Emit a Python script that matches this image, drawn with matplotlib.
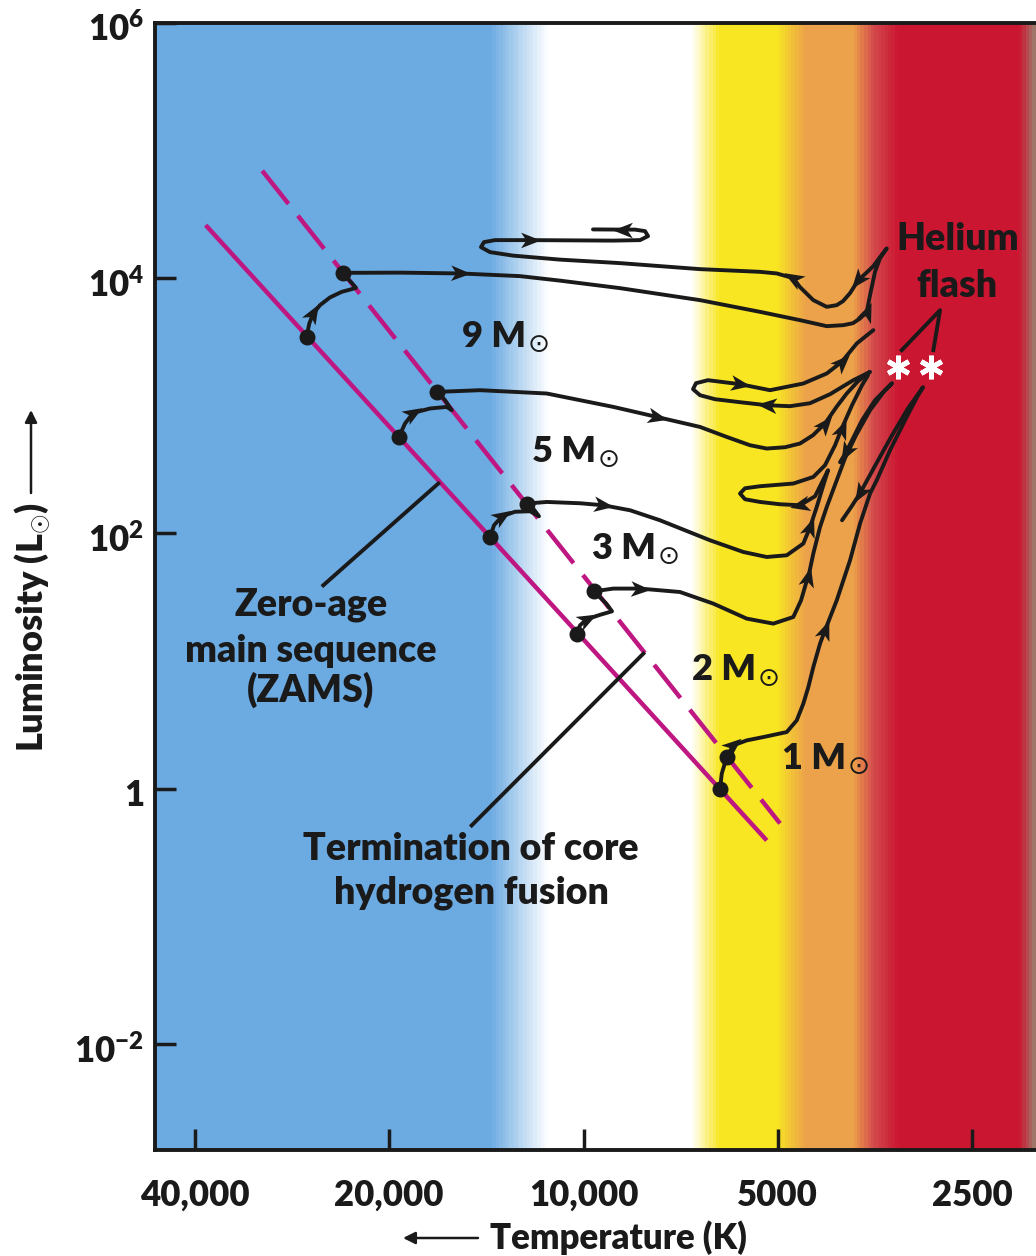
import numpy as np
import matplotlib
matplotlib.use("Agg")
import matplotlib.pyplot as plt
from matplotlib.colors import LinearSegmentedColormap, Normalize
from matplotlib.markers import MarkerStyle
from matplotlib.path import Path
from matplotlib.transforms import Affine2D, ScaledTranslation
from matplotlib.ticker import NullLocator

plt.rcParams['font.family'] = ['Lato', 'DejaVu Sans']
plt.rcParams['font.weight'] = 'heavy'
plt.rcParams['mathtext.fontset'] = 'custom'
plt.rcParams['mathtext.rm'] = 'Lato:heavy'
plt.rcParams['mathtext.bf'] = 'Lato:heavy'
plt.rcParams['mathtext.it'] = 'Lato:heavy'
plt.rcParams['mathtext.sf'] = 'Lato:heavy'

# ---------------- data (log10 T [K], log10 L [Lsun]) ----------------
x_ticks = [40000, 20000, 10000, 5000, 2500]
x_tick_labels = ['40,000', '20,000', '10,000', '5000', '2500']
y_ticks = [1e-2, 1, 1e2, 1e4, 1e6]
y_tick_labels = [r'$\mathbf{10^{-2}}$', '1', r'$\mathbf{10^{2}}$',
                 r'$\mathbf{10^{4}}$', r'$\mathbf{10^{6}}$']
T_range = (46130, 1990)
L_range = (10 ** -2.83, 1e6)

zams_logT = [4.5855, 3.7161]
zams_logL = [4.4146, -0.4052]
tams_logT = [4.4978, 3.6955]
tams_logL = [4.8401, -0.2720]

# 9 Msun
m9_ms_logT = [4.4290, 4.4249, 4.4187, 4.4083, 4.3929, 4.3747, 4.3592, 4.3526, 4.3592, 4.3670, 4.3722]
m9_ms_logL = [3.5392, 3.6442, 3.7225, 3.7876, 3.8479, 3.8918, 3.9130, 3.9232, 3.9624, 4.0047, 4.0407]
m9_logT = [4.3722, 4.2844, 4.1914, 4.0984, 4.0364, 3.9434, 3.8195, 3.7265, 3.6645, 3.6231,
           3.5974, 3.5824, 3.5715, 3.5611, 3.5560, 3.5483, 3.5405, 3.5301, 3.5405, 3.5509,
           3.5622, 3.5742, 3.5870, 3.5979, 3.6076, 3.6231, 3.6439, 3.6645, 3.6749, 3.7006,
           3.7265, 3.8195, 3.9434, 4.0364, 4.1093, 4.1449, 4.1589, 4.1542, 4.1372, 4.0829,
           3.9543, 3.9124, 3.9000, 3.9047, 3.9202, 3.9388, 3.9853]
m9_logL = [4.0407, 4.0423, 4.0360, 4.0149, 3.9796, 3.9208, 3.8268, 3.7351, 3.6700, 3.6230,
           3.6309, 3.6465, 3.6834, 3.7351, 3.8660, 4.0486, 4.1559, 4.2320, 4.1638, 4.0933,
           4.0384, 3.9835, 3.8817, 3.8189, 3.7876, 3.7743, 3.8268, 3.9287, 3.9992, 4.0360,
           4.0486, 4.0697, 4.1168, 4.1442, 4.1756, 4.2030, 4.2422, 4.2813, 4.2970, 4.2970,
           4.2931, 4.2970, 4.3284, 4.3675, 4.3793, 4.3793, 4.3809]
m9_ms_arrows = [2]
m9_arrows = [2, 13, 21, 28, 39, 45]

# 5 Msun
m5_ms_logT = [4.2859, 4.2766, 4.2638, 4.2379, 4.2120, 4.2042, 4.2146, 4.2266]
m5_ms_logL = [2.7555, 2.8605, 2.9436, 2.9780, 2.9906, 2.9647, 3.0431, 3.1081]
m5_logT = [4.2266, 4.1604, 4.0570, 3.9538, 3.8866, 3.8195, 3.7781, 3.7420, 3.7161, 3.6877,
           3.6645, 3.6444, 3.6258, 3.6072, 3.5921, 3.5746, 3.5560, 3.5819, 3.6180, 3.6490,
           3.6800, 3.7161, 3.7575, 3.7962, 3.8195, 3.8303, 3.8257, 3.8071, 3.7575, 3.7110,
           3.6594, 3.6231, 3.5999, 3.5766, 3.5509]
m5_logL = [3.1081, 3.1215, 3.0956, 2.9906, 2.9122, 2.8338, 2.7555, 2.6904, 2.6645, 2.6747,
           2.7038, 2.7688, 2.8605, 2.9961, 3.0956, 3.1920, 3.2649, 3.1998, 3.0901, 3.0195,
           2.9961, 3.0039, 3.0274, 3.0509, 3.0822, 3.1293, 3.1763, 3.1998, 3.1685, 3.1215,
           3.1739, 3.2523, 3.3433, 3.4874, 3.5917]
m5_ms_arrows = [2]
m5_arrows = [4, 12, 21, 28, 32]

# 3 Msun
m3_ms_logT = [4.1449, 4.1387, 4.1263, 4.1062, 4.0829, 4.0690, 4.0783, 4.0880]
m3_ms_logL = [1.9694, 2.0635, 2.1340, 2.1693, 2.1732, 2.1340, 2.1967, 2.2335]
m3_logT = [4.0880, 4.0570, 4.0054, 3.9693, 3.9279, 3.8815, 3.8040, 3.7524, 3.7161, 3.6851,
           3.6594, 3.6490, 3.6386, 3.6284, 3.6211, 3.6304, 3.6412, 3.6645, 3.6955, 3.7265,
           3.7497, 3.7575, 3.7497, 3.7265, 3.6749, 3.6439, 3.6258, 3.6102, 3.5999, 3.5839,
           3.5684, 3.5591]
m3_logL = [2.2335, 2.2461, 2.2359, 2.2202, 2.1810, 2.1026, 1.9459, 1.8542, 1.8150, 1.8284,
           1.9201, 2.0477, 2.2069, 2.3769, 2.4945, 2.4005, 2.2907, 2.2202, 2.2280, 2.2461,
           2.2672, 2.3119, 2.3534, 2.3691, 2.3903, 2.4420, 2.5337, 2.6904, 2.8213, 3.0039,
           3.1606, 3.2390]
m3_ms_arrows = [2]
m3_arrows = [3, 11, 17, 28]

# 2 Msun
m2_ms_logT = [4.0105, 4.0054, 3.9950, 3.9744, 3.9558, 3.9651, 3.9760, 3.9837]
m2_ms_logL = [1.2092, 1.2798, 1.3268, 1.3620, 1.3895, 1.4522, 1.5070, 1.5462]
m2_logT = [3.9837, 3.9538, 3.9124, 3.8505, 3.7989, 3.7471, 3.7059, 3.6749, 3.6629, 3.6552,
           3.6516, 3.6439, 3.6335, 3.6231, 3.6076, 3.5948, 3.5777, 3.5560, 3.5328, 3.5219,
           3.5483, 3.5684, 3.5839, 3.5932, 3.6025]
m2_logL = [1.5462, 1.5675, 1.5675, 1.5407, 1.4498, 1.3323, 1.2931, 1.3448, 1.4757, 1.6089,
           1.6583, 1.8417, 2.0502, 2.2069, 2.4161, 2.5885, 2.7688, 2.9647, 3.1215, 3.1763,
           3.0431, 2.8863, 2.7296, 2.6355, 2.5571]
m2_ms_arrows = [2]
m2_arrows = [2, 10, 23]

# 1 Msun
m1_ms_logT = [3.7885, 3.7858, 3.7781]
m1_ms_logL = [-0.0055, 0.1175, 0.2476]
m1_logT = [3.7781, 3.7679, 3.7471, 3.7214, 3.6851, 3.6696, 3.6594, 3.6516, 3.6439, 3.6335,
           3.6258, 3.6076, 3.5870, 3.5715, 3.5560, 3.5456, 3.5250, 3.5018, 3.4816, 3.4739,
           3.4971, 3.5219, 3.5452, 3.5622, 3.5715, 3.5855, 3.5994]
m1_logL = [0.2476, 0.3394, 0.3785, 0.4044, 0.4436, 0.5353, 0.6661, 0.7962, 0.9530, 1.1363,
           1.2406, 1.4757, 1.7892, 2.0768, 2.3119, 2.4161, 2.6513, 2.8863, 3.0822, 3.1450,
           2.9804, 2.7688, 2.5571, 2.4005, 2.3142, 2.2045, 2.1026]
m1_ms_arrows = []
m1_arrows = [1, 10, 24]

# Helium flash markers and pointer
flash_logT = [3.5126, 3.4615]
flash_logL = [3.3017, 3.3017]
flash_ptr_logT = [3.5069, 3.4475, 3.4579]
flash_ptr_logL = [3.4349, 3.7484, 3.4349]

mass_labels = ['9', '5', '3', '2', '1']

# background colour bands (temperature stops)
band_T = [46130, 13960, 11350, 6790, 6140, 5010, 4520, 3810, 3540, 3240, 2100, 1990]
band_colors = ['#6caae2', '#6caae2', '#ffffff', '#ffffff', '#f8e622', '#f8e622',
               '#eca24a', '#eca24a', '#d24a4c', '#cb1631', '#cb1631', '#a0766a']

INK = '#1a1a1a'

# ---------------- figure ----------------
fig = plt.figure(figsize=(10.36, 12.56), dpi=100)
ax = fig.add_axes([155 / 1036, 106 / 1256, 881 / 1036, 1127.3 / 1256])
ax.set_xscale('log')
ax.set_yscale('log')
ax.set_xlim(*T_range)
ax.set_ylim(*L_range)

lt0, lt1 = np.log10(T_range[0]), np.log10(T_range[1])
pos = [(lt0 - np.log10(t)) / (lt0 - lt1) for t in band_T]
pos[0], pos[-1] = 0.0, 1.0
cmap = LinearSegmentedColormap.from_list('bands', list(zip(pos, band_colors)))
Tedges = np.geomspace(T_range[0], T_range[1], 1200)
cent = (lt0 - np.log10(np.sqrt(Tedges[:-1] * Tedges[1:]))) / (lt0 - lt1)
ax.pcolormesh(Tedges, list(L_range), cent[None, :], cmap=cmap, norm=Normalize(0, 1),
              shading='flat', zorder=0, rasterized=True, antialiased=False)

MAG = '#bf1782'
ax.plot(10 ** np.array(zams_logT), 10 ** np.array(zams_logL), color=MAG, lw=3.2,
        solid_capstyle='butt', zorder=2)
ax.plot(10 ** np.array(tams_logT), 10 ** np.array(tams_logL), color=MAG, lw=3.2,
        linestyle=(0, (9.5, 3.4)), dash_capstyle='butt', zorder=2)

arrow_path = Path([(1.0, 0.0), (-0.9, 0.75), (-0.4, 0.0), (-0.9, -0.75), (1.0, 0.0)],
                  [Path.MOVETO, Path.LINETO, Path.LINETO, Path.LINETO, Path.CLOSEPOLY])


def draw_track(lt, ll, arrows):
    T = 10 ** np.asarray(lt)
    L = 10 ** np.asarray(ll)
    ax.plot(T, L, color=INK, lw=2.8, solid_joinstyle='round', solid_capstyle='round', zorder=3)
    pts = ax.transData.transform(np.column_stack([T, L]))
    for i in arrows:
        a = pts[max(i - 1, 0)]
        b = pts[min(i + 1, len(pts) - 1)]
        ang = np.arctan2(b[1] - a[1], b[0] - a[0])
        m = MarkerStyle(arrow_path, transform=Affine2D().rotate(ang))
        ax.plot([T[i]], [L[i]], marker=m, ms=15, color=INK, mew=0, ls='none', zorder=5)


tracks = [
    (m9_ms_logT, m9_ms_logL, m9_ms_arrows, m9_logT, m9_logL, m9_arrows),
    (m5_ms_logT, m5_ms_logL, m5_ms_arrows, m5_logT, m5_logL, m5_arrows),
    (m3_ms_logT, m3_ms_logL, m3_ms_arrows, m3_logT, m3_logL, m3_arrows),
    (m2_ms_logT, m2_ms_logL, m2_ms_arrows, m2_logT, m2_logL, m2_arrows),
    (m1_ms_logT, m1_ms_logL, m1_ms_arrows, m1_logT, m1_logL, m1_arrows),
]
for mslt, msll, msar, lt, ll, ar in tracks:
    draw_track(mslt, msll, msar)
    draw_track(lt, ll, ar)
    ax.plot(10 ** np.array([mslt[0], mslt[-1]]), 10 ** np.array([msll[0], msll[-1]]),
            'o', color=INK, ms=10.5, zorder=6)

# helium flash
ax.plot(10 ** np.array(flash_logT), 10 ** np.array(flash_logL), ls='none',
        marker=(6, 2, 0), ms=17, mew=3.5, mec='white', zorder=6)
ax.plot(10 ** np.array(flash_ptr_logT), 10 ** np.array(flash_ptr_logL), color=INK, lw=2.8,
        zorder=4)
ax.text(10 ** 3.4204, 10 ** 4.2186, 'Helium', ha='center', va='baseline', fontsize=27,
        color=INK, zorder=7)
ax.text(10 ** 3.4217, 10 ** 3.8527, 'flash', ha='center', va='baseline', fontsize=27,
        color=INK, zorder=7)

# mass labels
mass_label_pos = [(4.1888, 3.4608), (4.0803, 2.5596), (3.9873, 1.8025),
                  (3.8323, 0.8487), (3.6929, 0.1567)]
for lab, (px, py) in zip(mass_labels, mass_label_pos):
    t = ax.text(10 ** px, 10 ** py, lab + ' M', ha='left', va='baseline',
                fontsize=26, color=INK, zorder=7)
    ax.annotate('\u2299', xy=(1.0, 0.0), xycoords=t, xytext=(1.5, 5.5),
                textcoords='offset points', ha='left', va='center',
                fontfamily='DejaVu Sans', fontweight='normal', fontsize=19,
                color=INK, zorder=7)

# ZAMS / termination annotations
ax.plot([10 ** 4.4032, 10 ** 4.2250], [10 ** 1.5933, 10 ** 2.3903], color=INK, lw=2.8, zorder=4)
ax.plot([10 ** 4.1733, 10 ** 3.9073], [10 ** -0.2876, 10 ** 1.0580], color=INK, lw=2.8, zorder=4)
for txt, ly in [('Zero-age', 1.3581), ('main sequence', 0.9922), ('(ZAMS)', 0.6787)]:
    ax.text(10 ** 4.4228, 10 ** ly, txt, ha='center', va='baseline', fontsize=27,
            color=INK, zorder=7)
for txt, ly in [('Termination of core', -0.5620), ('hydrogen fusion', -0.8989)]:
    ax.text(10 ** 4.1743, 10 ** ly, txt, ha='center', va='baseline', fontsize=27,
            color=INK, zorder=7)

# axes styling
for s in ['left', 'bottom', 'top']:
    ax.spines[s].set_linewidth(2.8)
    ax.spines[s].set_color(INK)
ax.spines['right'].set_visible(False)
ax.set_xticks(x_ticks)
ax.set_xticklabels(x_tick_labels)
ax.set_yticks(y_ticks)
ax.set_yticklabels(y_tick_labels)
ax.xaxis.set_minor_locator(NullLocator())
ax.yaxis.set_minor_locator(NullLocator())
ax.tick_params(axis='both', direction='in', length=15, width=2.5, labelsize=25,
               colors=INK)
ax.tick_params(axis='x', pad=21)
ax.tick_params(axis='y', pad=8)
shift = ScaledTranslation(0, -4 / 100, fig.dpi_scale_trans)
for lbl in ax.get_yticklabels():
    lbl.set_transform(lbl.get_transform() + shift)

# axis titles
fig.text(490 / 1036, 1 - 1249 / 1256, 'Temperature (K)', ha='left', va='baseline',
         fontsize=25, color=INK)
ax.annotate('', xy=(403 / 1036, 1 - 1238 / 1256), xycoords='figure fraction',
            xytext=(478 / 1036, 1 - 1238 / 1256), textcoords='figure fraction',
            arrowprops=dict(arrowstyle='-|>', lw=1.8, color=INK, mutation_scale=18,
                            shrinkA=0, shrinkB=0))
fig.text(33 / 1036, 1 - 627 / 1256, r'Luminosity (L$_{\odot}$)', rotation=90,
         ha='center', va='center', fontsize=26, color=INK)
ax.annotate('', xy=(31 / 1036, 1 - 410 / 1256), xycoords='figure fraction',
            xytext=(31 / 1036, 1 - 493 / 1256), textcoords='figure fraction',
            arrowprops=dict(arrowstyle='-|>', lw=1.8, color=INK, mutation_scale=18,
                            shrinkA=0, shrinkB=0))

fig.savefig('out.png', dpi=100)
